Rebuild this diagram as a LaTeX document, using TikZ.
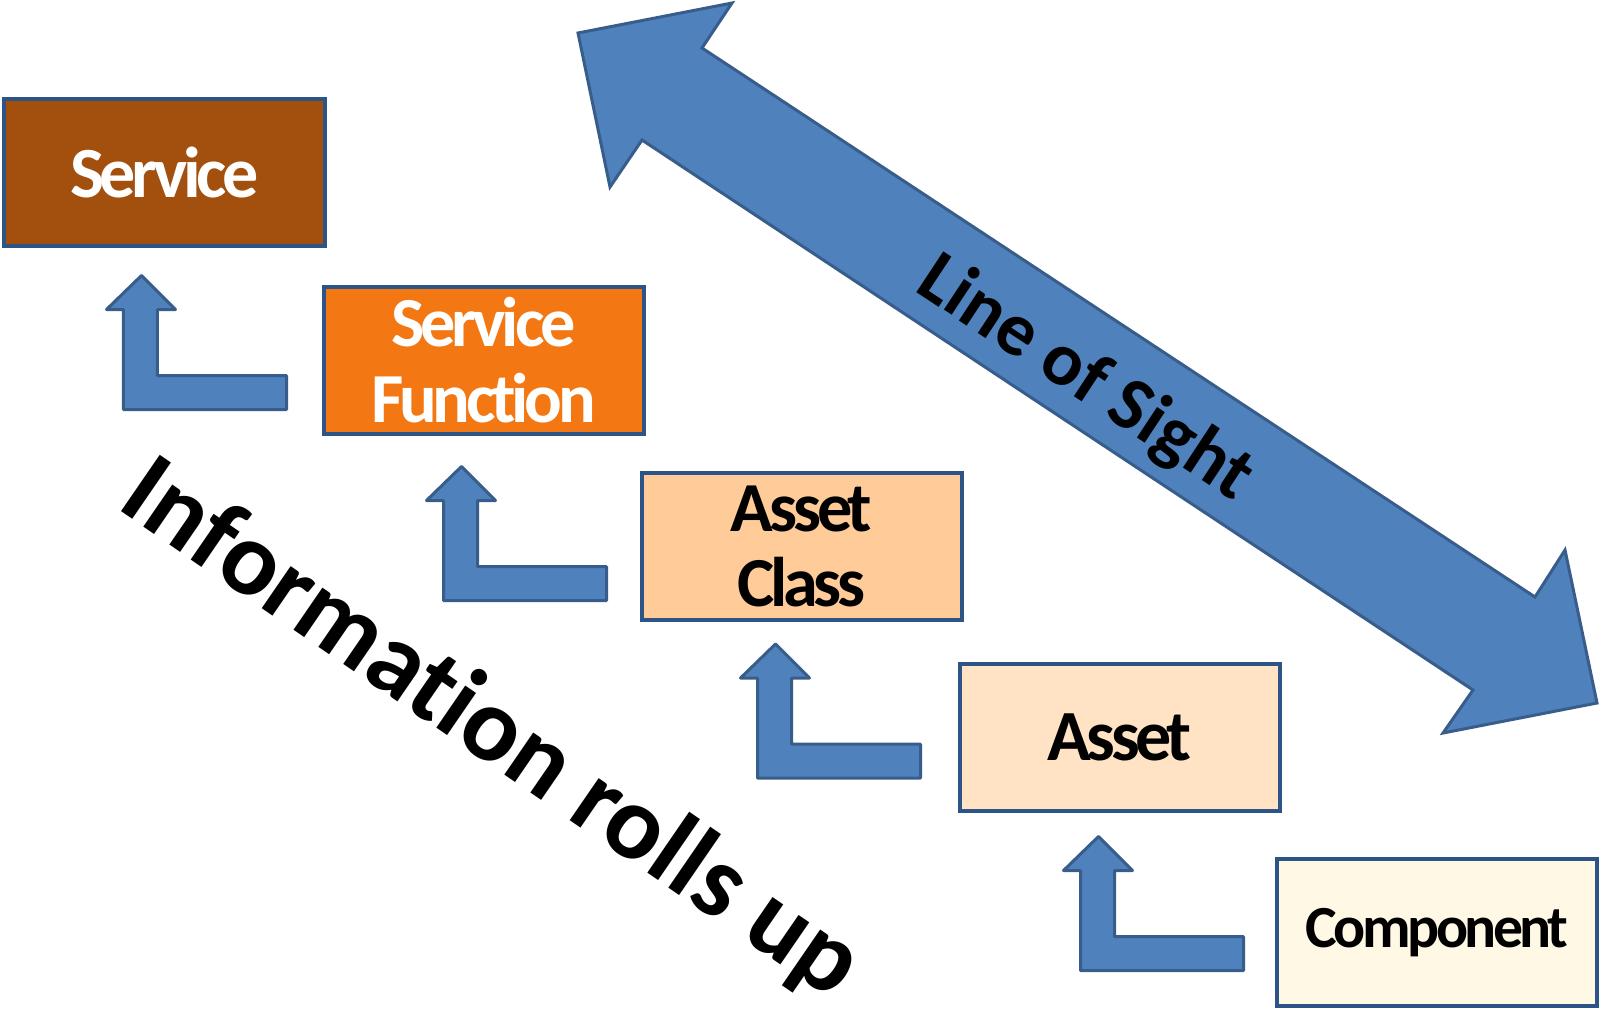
\documentclass[tikz,border=0pt]{standalone}
\usepackage{fontspec}
\setmainfont[Ligatures={TeX,NoCommon}]{Carlito}
\newfontfamily\boxfont[Ligatures=NoCommon,LetterSpace=-6]{Carlito}
\usepackage{tikz}
\usetikzlibrary{calc}
\definecolor{servfill}{HTML}{A34F0D}
\definecolor{funcfill}{HTML}{F37712}
\definecolor{classfill}{HTML}{FFCC99}
\definecolor{assetfill}{HTML}{FFE3C4}
\definecolor{compfill}{HTML}{FFF8E5}
\definecolor{boxline}{HTML}{2C5487}
\definecolor{arrowfill}{HTML}{4F81BD}
\definecolor{arrowline}{HTML}{385D8A}

\begin{document}
\begin{tikzpicture}[x=0.2mm,y=-0.2mm,
      level/.style={draw=boxline,line width=0.8mm,minimum width=64mm,minimum height=29.4mm,
        inner sep=0pt,align=center,font=\boxfont\bfseries\fontsize{40}{43}\selectfont},
      bentarrow/.style={draw=arrowline,fill=arrowfill,line width=0.6mm,line join=round},
      bigarrow/.style={draw=arrowline,fill=arrowfill,line width=0.6mm,line join=miter},
      rollup/.pic={\draw[bentarrow] (0,0) -- (34,34) -- (16,34) -- (16,100) -- (145,100) -- (145,134)
        -- (-18,134) -- (-18,34) -- (-35,34) -- cycle;}]
    \useasboundingbox (0,0) rectangle (1600,1011);
    \draw[bigarrow] (578,33) -- (732,3) -- (702,48) -- (1535,597) -- (1565,550) -- (1597,703)
      -- (1443,733) -- (1473,690) -- (642,140) -- (610,187) -- cycle;
    \node (sight) [rotate=-33.4,anchor=base,inner sep=0pt,font=\bfseries\fontsize{43}{46}\selectfont] at (1074,396) {Line of Sight};
    \node (service) [level,fill=servfill,text=white,font=\boxfont\bfseries\fontsize{41}{44}\selectfont] at (164.5,172) {Service};
    \node (function) [level,fill=funcfill,text=white] at (483.5,360) {Service\\Function};
    \node (class) [level,fill=classfill] at (801.5,546.5) {Asset\\Class};
    \node (asset) [level,fill=assetfill,font=\boxfont\bfseries\fontsize{41}{44}\selectfont] at (1119.5,737) {Asset};
    \node (component) [level,fill=compfill,font=\boxfont\bfseries\fontsize{34}{38}\selectfont] at (1437,932.5) {Component};
    \pic at ($(service.south west)+(139,28)$) {rollup};
    \pic at ($(function.south west)+(140,31)$) {rollup};
    \pic at ($(class.south west)+(136,22)$) {rollup};
    \pic at ($(asset.south west)+(141,24)$) {rollup};
    \node (rolls) [rotate=-34.5,anchor=base,inner sep=0pt,font=\bfseries\fontsize{60}{64}\selectfont] at (474,754) {Information rolls up};
  \end{tikzpicture}
\end{document}
